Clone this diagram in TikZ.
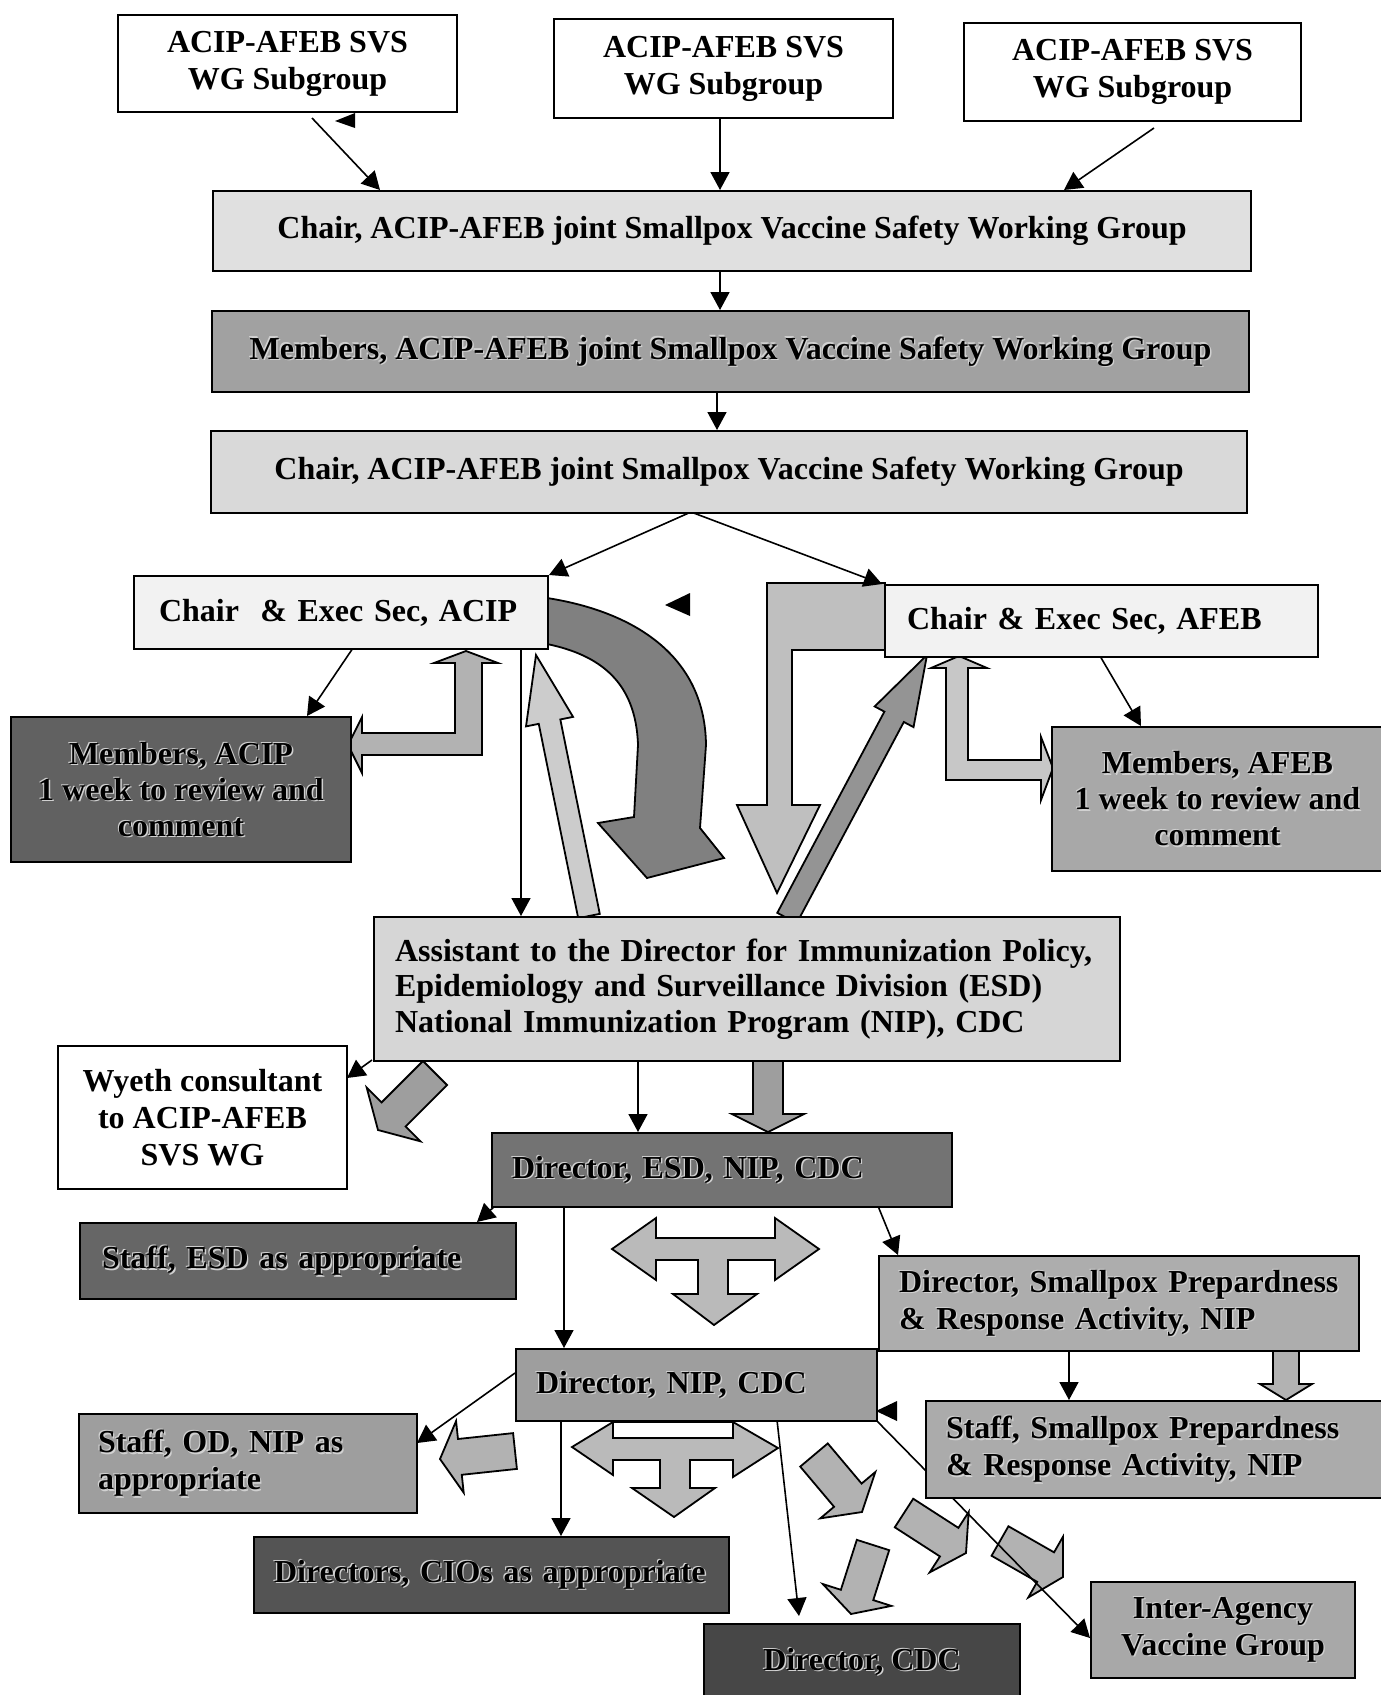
\documentclass[tikz,border=0pt]{standalone}
\usepackage{fontspec}
\usepackage{graphicx}
\setmainfont{Liberation Serif}
\usetikzlibrary{arrows.meta,calc}
\pgfdeclarelayer{bg}\pgfdeclarelayer{fat}\pgfdeclarelayer{thin}
\pgfsetlayers{bg,fat,thin,main}
\newcommand\halo[1]{\leavevmode\rlap{\color{black!18}\kern1.4pt\raisebox{-1.4pt}{#1}}\rlap{\color{black!18}\kern-1.1pt\raisebox{1.1pt}{#1}}#1}
\newcommand\fatarw[6]{%
 \coordinate (fS) at (#2); \coordinate (fT) at (#3);
 \coordinate (fH) at ($(fT)!#6pt!(fS)$);
 \filldraw[fatline, fill=#1] ($(fS)!#4pt!90:(fT)$) -- ($(fH)!#4pt!90:(fT)$) -- ($(fH)!#5pt!90:(fT)$) -- (fT) -- ($(fH)!#5pt!-90:(fT)$) -- ($(fH)!#4pt!-90:(fT)$) -- ($(fS)!#4pt!-90:(fT)$) -- cycle;}
\begin{document}
\begin{tikzpicture}[x=1pt,y=-1pt,
  font=\fontsize{32}{37}\selectfont\bfseries,
  box/.style={draw, line width=2pt, anchor=north west, inner sep=0pt, align=center},
  lbox/.style={box, align=left},
  thinarr/.style={line width=1.6pt, -{Triangle[length=18pt,width=19pt]}},
  fatline/.style={draw=black, line width=1.8pt, line join=miter}]
\useasboundingbox (0,0) rectangle (1381,1695);
\begin{pgfonlayer}{bg}
\fill[white] (0,0) rectangle (1381,1695);
\end{pgfonlayer}

% ---------- boxes ----------
\node[box, fill=white, minimum width=339pt, minimum height=97pt] (sub1) at (117,14) {ACIP-AFEB SVS\\WG Subgroup};
\node[box, fill=white, minimum width=339pt, minimum height=99pt] (sub2) at (553,18) {ACIP-AFEB SVS\\WG Subgroup};
\node[box, fill=white, minimum width=337pt, minimum height=98pt] (sub3) at (963,22) {ACIP-AFEB SVS\\WG Subgroup};
\node[box, fill=black!12, minimum width=1038pt, minimum height=80pt] (chair1) at (212,190) {Chair, ACIP-AFEB joint Smallpox Vaccine Safety Working Group};
\node[box, fill=black!37, minimum width=1037pt, minimum height=81pt] (memwg) at (211,310) {\halo{Members, ACIP-AFEB joint Smallpox Vaccine Safety Working Group}};
\node[box, fill=black!15, minimum width=1036pt, minimum height=82pt] (chair2) at (210,430) {Chair, ACIP-AFEB joint Smallpox Vaccine Safety Working Group};
\node[lbox, fill=black!5, text width=364pt, inner xsep=25pt, minimum height=73pt] (acip) at (133,575) {Chair\ \ \& Exec Sec, ACIP};
\node[lbox, fill=black!5, text width=389pt, inner xsep=22pt, minimum height=72pt] (afeb) at (884,584) {Chair \& Exec Sec, AFEB};
\node[box, fill=black!62, minimum width=340pt, minimum height=145pt, font=\fontsize{32}{36}\selectfont\bfseries] (memacip) at (10,716) {\halo{Members, ACIP}\\\halo{1 week to review and}\\\halo{comment}};
\node[box, fill=black!34, minimum width=331pt, minimum height=144pt, font=\fontsize{32}{36}\selectfont\bfseries] (memafeb) at (1051,726) {\halo{Members, AFEB}\\\halo{1 week to review and}\\\halo{comment}};
\node[lbox, fill=black!16, text width=704pt, inner xsep=21pt, minimum height=144pt, font=\fontsize{32}{35.5}\selectfont\bfseries] (assist) at (373,916) {Assistant to the Director for Immunization Policy,\\Epidemiology and Surveillance Division (ESD)\\National Immunization Program (NIP), CDC};
\node[box, fill=white, minimum width=289pt, minimum height=143pt] (wyeth) at (57,1045) {Wyeth consultant\\to ACIP-AFEB\\SVS WG};
\node[lbox, fill=black!55, text width=420pt, inner xsep=20pt, minimum height=74pt] (diresd) at (491,1132) {\halo{Director, ESD, NIP, CDC}};
\node[lbox, fill=black!60, text width=392pt, inner xsep=22pt, minimum height=76pt] (staffesd) at (79,1222) {\halo{Staff, ESD as appropriate}};
\node[lbox, fill=black!32, text width=440pt, inner xsep=20pt, minimum height=95pt] (dirsp) at (878,1255) {\halo{Director, Smallpox Prepardness}\\\halo{\& Response Activity, NIP}};
\node[lbox, fill=black!38, text width=321pt, inner xsep=20pt, minimum height=72pt] (dirnip) at (515,1348) {\halo{Director, NIP, CDC}};
\node[lbox, fill=black!33, text width=417pt, inner xsep=20pt, minimum height=97pt] (staffsp) at (925,1400) {\halo{Staff, Smallpox Prepardness}\\\halo{\& Response Activity, NIP}};
\node[lbox, fill=black!38, text width=300pt, inner xsep=19pt, minimum height=99pt] (staffod) at (78,1413) {\halo{Staff, OD, NIP as}\\\halo{appropriate}};
\node[lbox, fill=black!67, text width=435pt, inner xsep=20pt, minimum height=76pt] (cios) at (253,1536) {\halo{Directors, CIOs as appropriate}};
\node[box, fill=black!72, minimum width=316pt, minimum height=76pt] (dircdc) at (703,1623) {\halo{Director, CDC}};
\node[box, fill=black!34, minimum width=264pt, minimum height=96pt] (inter) at (1090,1581) {\halo{Inter-Agency}\\\halo{Vaccine Group}};

% ---------- thin connectors ----------
\begin{pgfonlayer}{thin}
\draw[thinarr] ($(sub1.north west)+(195,104)$) -- ($(chair1.north west)+(168,0)$);
\draw[thinarr] ($(sub2.north west)+(167,99)$) -- ($(chair1.north west)+(508,0)$);
\draw[thinarr] ($(sub3.north west)+(191,106)$) -- ($(chair1.north west)+(852,0)$);
\draw[thinarr] ($(chair1.north west)+(508,80)$) -- ($(memwg.north west)+(509,0)$);
\draw[thinarr] ($(memwg.north west)+(506,81)$) -- ($(chair2.north west)+(507,0)$);
\draw[thinarr] ($(chair2.north west)+(481,82)$) -- ($(acip.north west)+(416,0)$);
\draw[thinarr] ($(chair2.north west)+(481,82)$) -- ($(afeb.north west)+(-2,0)$);
\draw[thinarr] ($(acip.north west)+(220,73)$) -- ($(memacip.north west)+(297,0)$);
\draw[thinarr] ($(acip.north west)+(388,73)$) -- ($(assist.north west)+(148,0)$);
\draw[thinarr] ($(afeb.north west)+(216,72)$) -- ($(memafeb.north west)+(90,0)$);
\draw[thinarr] ($(assist.north west)+(-1,144)$) -- ($(wyeth.north west)+(290,33)$);
\draw[thinarr] ($(assist.north west)+(265,144)$) -- ($(diresd.north west)+(147,0)$);
\draw[thinarr] ($(diresd.north west)+(4,74)$) -- ($(staffesd.north west)+(398,0)$);
\draw[thinarr] ($(diresd.north west)+(73,74)$) -- ($(dirnip.north west)+(49,0)$);
\draw[thinarr] ($(diresd.north west)+(387,74)$) -- ($(dirsp.north west)+(20,0)$);
\draw[thinarr] ($(dirsp.north west)+(191,95)$) -- ($(staffsp.north west)+(144,0)$);
\draw[thinarr] ($(dirnip.north west)+(0,25)$) -- ($(staffod.north west)+(339,30)$);
\draw[thinarr] ($(dirnip.north west)+(46,72)$) -- ($(cios.north west)+(308,0)$);
\draw[thinarr] ($(dirnip.north west)+(262,72)$) -- ($(dircdc.north west)+(96,-7)$);
\draw[thinarr] ($(dirnip.north west)+(361,72)$) -- ($(inter.north west)+(0,57)$);
\end{pgfonlayer}

% ---------- block arrows ----------
\begin{pgfonlayer}{fat}
% curved arrow from ACIP box
\filldraw[fatline, fill=black!50] (547,598) .. controls (625,610) and (705,650) .. (706,745) -- (700,828) -- (724,858) -- (647,878) -- (598,823) -- (634,817) -- (638,745) .. controls (636,682) and (600,655) .. (547,644) -- cycle;
% up arrow assistant -> ACIP
\fatarw{black!20}{589,916}{536,655}{11}{24}{68}
% L arrow AFEB -> down
\filldraw[fatline, fill=black!25] (885,583) -- (767,583) -- (767,805) -- (737,805) -- (777,893) -- (820,805) -- (792,805) -- (792,650) -- (885,650) -- cycle;
% up-right arrow assistant -> AFEB
\fatarw{black!42}{787,918}{927,655}{11}{22}{70}
% double L arrow ACIP
\filldraw[fatline, fill=black!30] (482,663) -- (498,663) -- (466,651) -- (434,663) -- (455,663) -- (455,733) -- (362,733) -- (362,717) -- (348,745) -- (362,773) -- (362,755) -- (482,755) -- cycle;
% double L arrow AFEB
\filldraw[fatline, fill=black!22] (946,668) -- (931,668) -- (959,656) -- (987,668) -- (968,668) -- (968,760) -- (1041,760) -- (1041,737) -- (1053,768) -- (1041,800) -- (1041,780) -- (946,780) -- cycle;
% lower block arrows
\fatarw{black!38}{435,1073}{378,1130}{17}{38}{22}
\fatarw{black!38}{768,1060}{768,1132}{15}{36}{18}
\filldraw[fatline, fill=black!27] (612,1249) -- (656,1218) -- (656,1238) -- (775,1238) -- (775,1218) -- (819,1249) -- (775,1280) -- (775,1260) -- (728,1260) -- (728,1294) -- (757,1294) -- (714,1325) -- (673,1294) -- (698,1294) -- (698,1260) -- (656,1260) -- (656,1280) -- cycle;
\fatarw{black!30}{1286,1350}{1286,1400}{13}{26}{16}
\draw[fatline, fill=white] (613,1422) rectangle (733,1438);
\filldraw[fatline, fill=black!27] (572,1447) -- (613,1422) -- (613,1438) -- (733,1438) -- (733,1422) -- (778,1448) -- (733,1477) -- (733,1460) -- (690,1460) -- (690,1488) -- (715,1488) -- (674,1517) -- (632,1488) -- (660,1488) -- (660,1460) -- (613,1460) -- (613,1475) -- cycle;
\fatarw{black!30}{515,1451}{440,1459}{18}{36}{20}
\fatarw{black!30}{814,1455}{862,1512}{18}{36}{22}
\fatarw{black!30}{904,1513}{966,1553}{17}{36}{20}
\fatarw{black!30}{1000,1541}{1063,1577}{17}{35}{20}
\fatarw{black!30}{873,1545}{851,1614}{17}{36}{20}
\end{pgfonlayer}

% stray arrowhead marks
\fill (355,113) -- (335,121) -- (355,128) -- cycle;
\fill (690,593) -- (665,605) -- (690,616) -- cycle;
\fill (897,1401) -- (876,1411) -- (897,1421) -- cycle;
\end{tikzpicture}
\end{document}
